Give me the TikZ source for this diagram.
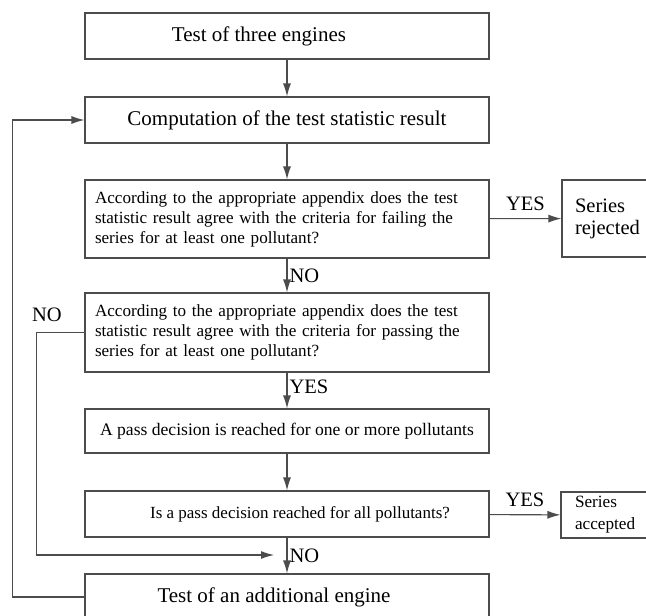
\documentclass[tikz,border=0pt]{standalone}
\usepackage{fontspec}
\setmainfont{Liberation Serif}
\usetikzlibrary{arrows.meta}
\usetikzlibrary{positioning}
\tikzset{box/.style = {draw=gray!60!black, line width=1.1pt, rectangle, minimum width=404, inner sep=0}}
\tikzset{bigfont/.style = {font=\fontsize{21}{25}\selectfont}}
\tikzset{bigbox/.style = {box, bigfont}}
\tikzset{askbox/.style = {box, align=left, text width=384, font=\fontsize{17.1}{20}\selectfont}}
\tikzset{endbox/.style = {box, align=left, inner xsep=13, font=\fontsize{20.5}{22}\selectfont}}
\tikzset{lbl/.style = {font=\fontsize{20.5}{22}\selectfont, inner sep=2}}
\tikzset{arr/.style = {draw=gray!60!black, line width=1.1pt, -{Latex[length=13pt, width=8pt]}}}

\begin{document}
\begin{tikzpicture}[x=1pt, y=-1pt]
      \useasboundingbox (0, 0) rectangle (646, 616);
      \node [box, minimum height=46, label={[bigfont, xshift=-28pt]center:Test of three engines}] (test) at (287, 36) {};
      \node [bigbox, minimum height=46] (comp) at (287, 120) {Computation of the test statistic result};
      \node [askbox, minimum height=78] (failq) at (287, 219) {According to the appropriate appendix does the test\\statistic result agree with the criteria for failing the\\series for at least one pollutant?};
      \node [askbox, minimum height=79] (passq) at (287, 332.5) {According to the appropriate appendix does the test\\statistic result agree with the criteria for passing the\\series for at least one pollutant?};
      \node [box, minimum height=44, font=\fontsize{17.6}{20}\selectfont] (passdec) at (287, 431) {A pass decision is reached for one or more pollutants};
      \node [box, minimum height=46, label={[font=\fontsize{17}{20}\selectfont, xshift=13pt]center:Is a pass decision reached for all pollutants?}] (allq) at (287, 514) {};
      \node [box, minimum height=46, label={[bigfont, xshift=-13pt]center:Test of an additional engine}] (addeng) at (287, 597) {};
      \node [endbox, minimum width=93, minimum height=77, text width=67] (rej) at (608.5, 218.5) {Series\\rejected};
      \node [endbox, minimum width=91, minimum height=46, text width=63, inner xsep=14, font=\fontsize{17.2}{22}\selectfont] (acc) at (606.5, 515) {Series\\accepted};
      \coordinate (merge) at (274, 555);
      \draw [arr] (test) -- (comp);
      \draw [arr] (comp) -- (failq);
      \draw [arr] (failq) -- node [lbl, right] {NO} (passq);
      \draw [arr] (passq) -- node [lbl, right, pos=0.4] {YES} (passdec);
      \draw [arr] (passdec) -- (allq);
      \draw [arr] (allq) -- node [lbl, right] {NO} (addeng);
      \draw [arr] (failq) -- node [lbl, above=5pt] {YES} (rej);
      \draw [arr] (allq) -- node [lbl, above=5pt] {YES} (acc);
      \draw [arr] (addeng.west) -- ++(-72, 0) |- (comp.west);
      \draw [arr] (passq.west) -- ++(-48, 0) |- (merge);
      \node [lbl] (nolbl) at (47, 315) {NO};
    \end{tikzpicture}
\end{document}
